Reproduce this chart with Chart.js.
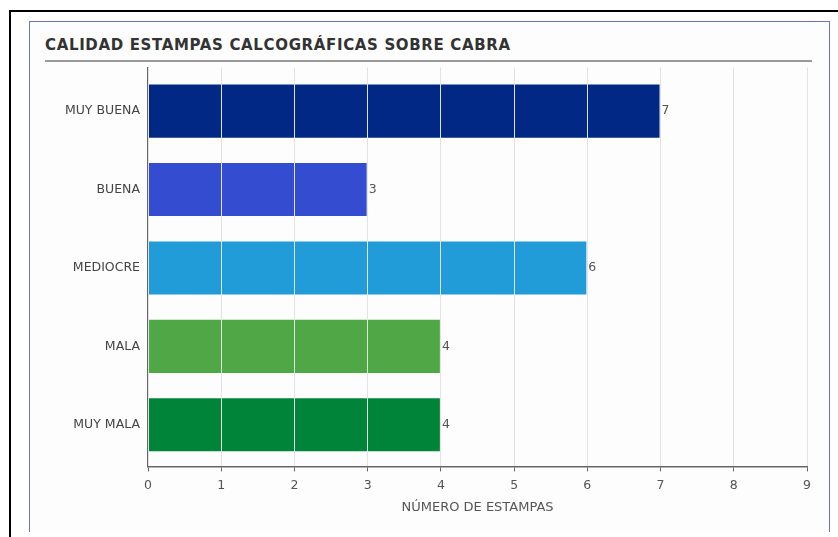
<!DOCTYPE html>
<html>
<head>
<meta charset="utf-8">
<script src="https://cdn.jsdelivr.net/npm/chart.js@4/dist/chart.umd.min.js"></script>
<style>
  body { margin: 0; background: #fff; font-family: "DejaVu Sans", sans-serif; }
  #frame { position: absolute; left: 9px; top: 10px; width: 900px; height: 600px; border-left: 2px solid #000; border-top: 2px solid #000; }
  #panel { position: absolute; left: 29px; top: 21px; width: 799px; height: 510px; border: 1px solid #6b76c6; border-bottom: none; background: #fdfdfd; }
  #title { position: absolute; left: 45px; top: 36px; width: 767px; height: 24px; border-bottom: 2px solid #9a9a9a;
           font: bold 15px/18px "DejaVu Sans", sans-serif; color: #333; letter-spacing: 0.65px; white-space: nowrap; }
  #wrap { position: absolute; left: 30px; top: 52px; width: 798px; height: 478px; }
</style>
</head>
<body>
<div id="frame"></div>
<div id="panel"></div>
<div id="title">CALIDAD ESTAMPAS CALCOGRÁFICAS SOBRE CABRA</div>
<div id="wrap"><canvas id="myChart"></canvas></div>
<script>
// data
const categories = ['MUY BUENA', 'BUENA', 'MEDIOCRE', 'MALA', 'MUY MALA']
const counts = [7, 3, 6, 4, 4]
const barColors = ['#002884', '#344dd0', '#229cd8', '#4fa845', '#00843a']
const xTicks = [0, 1, 2, 3, 4, 5, 6, 7, 8, 9]

// value written just right of each bar
const valueLabels = {
    id: 'valueLabels',
    afterDatasetsDraw(chart) {
        const ctx = chart.ctx
        const meta = chart.getDatasetMeta(0)
        ctx.save()
        ctx.font = '12.5px "DejaVu Sans", sans-serif'
        ctx.fillStyle = '#555'
        ctx.textBaseline = 'middle'
        meta.data.forEach((bar, i) => {
            ctx.fillText(String(counts[i]), bar.x + 1, bar.y)
        })
        ctx.restore()
    }
}

const ctx = document.getElementById('myChart')
new Chart(ctx, {
    type: 'bar',
    data: {
        labels: categories,
        datasets: [{
            data: counts,
            backgroundColor: barColors,
            borderColor: 'rgba(255,255,255,0.35)',
            borderWidth: 1,
            categoryPercentage: 0.9,
            barPercentage: 0.78
        }]
    },
    plugins: [valueLabels],
    options: {
        indexAxis: 'y',
        responsive: true,
        maintainAspectRatio: false,
        animation: false,
        layout: { padding: { top: 0, right: 21, bottom: 15, left: 0 } },
        plugins: {
            legend: { display: false },
            tooltip: { enabled: false }
        },
        scales: {
            x: {
                min: 0,
                max: 9,
                afterBuildTicks(scale) {
                    scale.ticks = xTicks.map(v => ({ value: v }))
                },
                afterFit(scale) { scale.height = scale.height - 2 },
                // grid over the bars, axis line after the grid
                grid: { color: '#e2e2e2', lineWidth: 1, z: 1, tickLength: 5, tickColor: '#666' },
                border: { color: '#666', width: 1.5, z: 2 },
                ticks: { color: '#555', font: { family: 'DejaVu Sans', size: 12.5 }, padding: 7 },
                title: {
                    display: true,
                    text: 'NÚMERO DE ESTAMPAS',
                    color: '#555',
                    font: { family: 'DejaVu Sans', size: 13 },
                    padding: { top: 1, bottom: 0 }
                }
            },
            y: {
                afterFit(scale) { scale.width = 118 },
                // the original leaves a bit more room under the last bar than above the first
                afterBuildTicks(scale) {
                    scale._startValue = -0.556
                    scale._valueRange = 5.086
                },
                grid: { display: false, drawTicks: false, tickLength: 0 },
                border: { color: '#666', width: 1.5 },
                ticks: { color: '#444', font: { family: 'DejaVu Sans', size: 12.5 }, padding: 8 }
            }
        }
    }
})
</script>
</body>
</html>
